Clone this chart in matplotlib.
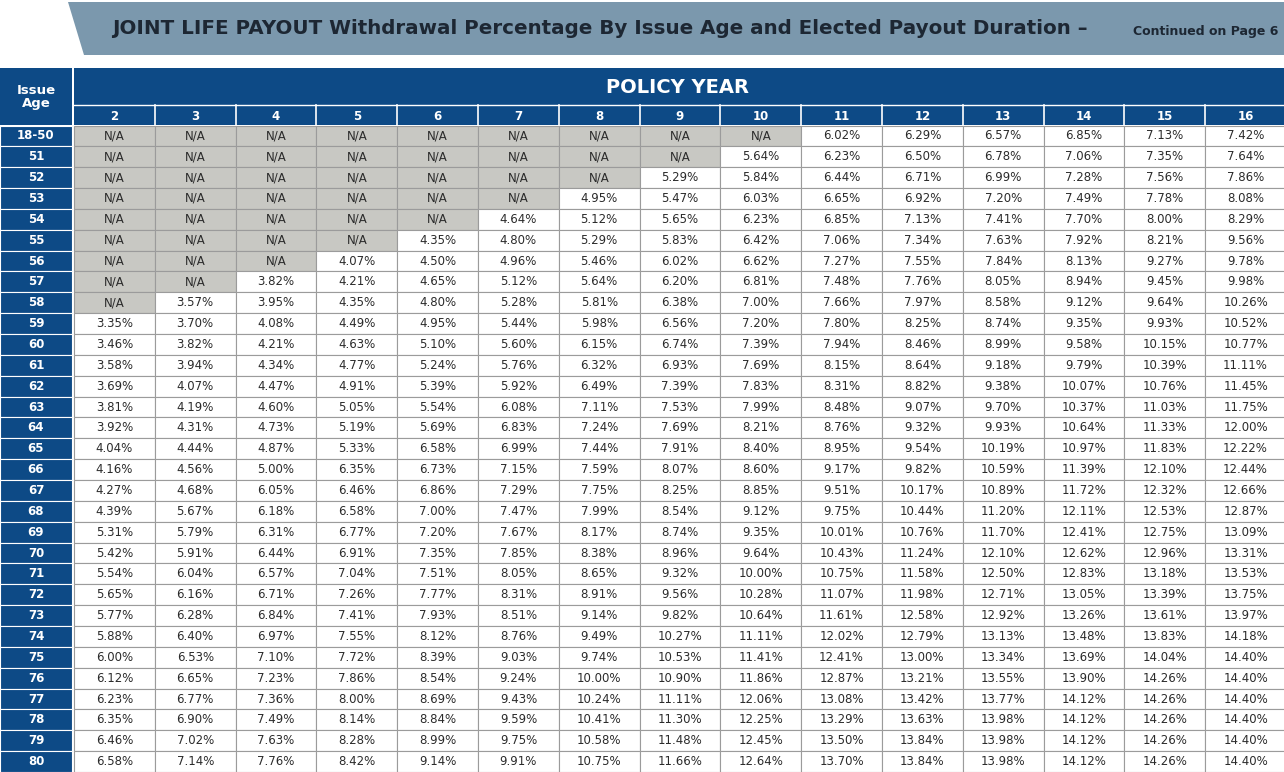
import matplotlib
matplotlib.use("Agg")
import matplotlib.pyplot as plt
from matplotlib.patches import Rectangle, Polygon

NA = None
ages = ["18-50"] + [str(a) for a in range(51, 81)]
years = list(range(2, 17))
rates = [
    [NA] * 9 + [6.02, 6.29, 6.57, 6.85, 7.13, 7.42],
    [NA] * 8 + [5.64, 6.23, 6.50, 6.78, 7.06, 7.35, 7.64],
    [NA] * 7 + [5.29, 5.84, 6.44, 6.71, 6.99, 7.28, 7.56, 7.86],
    [NA] * 6 + [4.95, 5.47, 6.03, 6.65, 6.92, 7.20, 7.49, 7.78, 8.08],
    [NA] * 5 + [4.64, 5.12, 5.65, 6.23, 6.85, 7.13, 7.41, 7.70, 8.00, 8.29],
    [NA] * 4 + [4.35, 4.80, 5.29, 5.83, 6.42, 7.06, 7.34, 7.63, 7.92, 8.21, 9.56],
    [NA] * 3 + [4.07, 4.50, 4.96, 5.46, 6.02, 6.62, 7.27, 7.55, 7.84, 8.13, 9.27, 9.78],
    [NA] * 2 + [3.82, 4.21, 4.65, 5.12, 5.64, 6.20, 6.81, 7.48, 7.76, 8.05, 8.94, 9.45, 9.98],
    [NA] + [3.57, 3.95, 4.35, 4.80, 5.28, 5.81, 6.38, 7.00, 7.66, 7.97, 8.58, 9.12, 9.64, 10.26],
    [3.35, 3.70, 4.08, 4.49, 4.95, 5.44, 5.98, 6.56, 7.20, 7.80, 8.25, 8.74, 9.35, 9.93, 10.52],
    [3.46, 3.82, 4.21, 4.63, 5.10, 5.60, 6.15, 6.74, 7.39, 7.94, 8.46, 8.99, 9.58, 10.15, 10.77],
    [3.58, 3.94, 4.34, 4.77, 5.24, 5.76, 6.32, 6.93, 7.69, 8.15, 8.64, 9.18, 9.79, 10.39, 11.11],
    [3.69, 4.07, 4.47, 4.91, 5.39, 5.92, 6.49, 7.39, 7.83, 8.31, 8.82, 9.38, 10.07, 10.76, 11.45],
    [3.81, 4.19, 4.60, 5.05, 5.54, 6.08, 7.11, 7.53, 7.99, 8.48, 9.07, 9.70, 10.37, 11.03, 11.75],
    [3.92, 4.31, 4.73, 5.19, 5.69, 6.83, 7.24, 7.69, 8.21, 8.76, 9.32, 9.93, 10.64, 11.33, 12.00],
    [4.04, 4.44, 4.87, 5.33, 6.58, 6.99, 7.44, 7.91, 8.40, 8.95, 9.54, 10.19, 10.97, 11.83, 12.22],
    [4.16, 4.56, 5.00, 6.35, 6.73, 7.15, 7.59, 8.07, 8.60, 9.17, 9.82, 10.59, 11.39, 12.10, 12.44],
    [4.27, 4.68, 6.05, 6.46, 6.86, 7.29, 7.75, 8.25, 8.85, 9.51, 10.17, 10.89, 11.72, 12.32, 12.66],
    [4.39, 5.67, 6.18, 6.58, 7.00, 7.47, 7.99, 8.54, 9.12, 9.75, 10.44, 11.20, 12.11, 12.53, 12.87],
    [5.31, 5.79, 6.31, 6.77, 7.20, 7.67, 8.17, 8.74, 9.35, 10.01, 10.76, 11.70, 12.41, 12.75, 13.09],
    [5.42, 5.91, 6.44, 6.91, 7.35, 7.85, 8.38, 8.96, 9.64, 10.43, 11.24, 12.10, 12.62, 12.96, 13.31],
    [5.54, 6.04, 6.57, 7.04, 7.51, 8.05, 8.65, 9.32, 10.00, 10.75, 11.58, 12.50, 12.83, 13.18, 13.53],
    [5.65, 6.16, 6.71, 7.26, 7.77, 8.31, 8.91, 9.56, 10.28, 11.07, 11.98, 12.71, 13.05, 13.39, 13.75],
    [5.77, 6.28, 6.84, 7.41, 7.93, 8.51, 9.14, 9.82, 10.64, 11.61, 12.58, 12.92, 13.26, 13.61, 13.97],
    [5.88, 6.40, 6.97, 7.55, 8.12, 8.76, 9.49, 10.27, 11.11, 12.02, 12.79, 13.13, 13.48, 13.83, 14.18],
    [6.00, 6.53, 7.10, 7.72, 8.39, 9.03, 9.74, 10.53, 11.41, 12.41, 13.00, 13.34, 13.69, 14.04, 14.40],
    [6.12, 6.65, 7.23, 7.86, 8.54, 9.24, 10.00, 10.90, 11.86, 12.87, 13.21, 13.55, 13.90, 14.26, 14.40],
    [6.23, 6.77, 7.36, 8.00, 8.69, 9.43, 10.24, 11.11, 12.06, 13.08, 13.42, 13.77, 14.12, 14.26, 14.40],
    [6.35, 6.90, 7.49, 8.14, 8.84, 9.59, 10.41, 11.30, 12.25, 13.29, 13.63, 13.98, 14.12, 14.26, 14.40],
    [6.46, 7.02, 7.63, 8.28, 8.99, 9.75, 10.58, 11.48, 12.45, 13.50, 13.84, 13.98, 14.12, 14.26, 14.40],
    [6.58, 7.14, 7.76, 8.42, 9.14, 9.91, 10.75, 11.66, 12.64, 13.70, 13.84, 13.98, 14.12, 14.26, 14.40],
]

NAVY = "#0d4a86"
BANNER = "#7b98ad"
GREY = "#c8c8c3"
GRID = "#9b9b9b"
TEXT = "#2b2b2b"

W, H = 1284, 772
fig = plt.figure(figsize=(W / 100, H / 100), dpi=100)
ax = fig.add_axes([0, 0, 1, 1])
ax.set_xlim(0, W)
ax.set_ylim(H, 0)
ax.axis("off")

# title banner
ax.add_patch(Polygon([(68, 2), (W, 2), (W, 55), (84, 55)], closed=True,
                     facecolor=BANNER, edgecolor="none"))
ax.text(112, 29, "JOINT LIFE PAYOUT Withdrawal Percentage By Issue Age and Elected Payout Duration \u2013",
        fontsize=14.3, fontweight="bold", color="#1d2733", va="center", ha="left")
ax.text(1278, 31, "Continued on Page 6", fontsize=9, fontweight="bold", color="#1d2733",
        va="center", ha="right")

age_w = 72
top = 68
head_h = 37
yr_h = 20
row_top = top + head_h + yr_h + 0.5
row_h = (H - row_top) / len(ages)
col_w = (W - age_w) / len(years)

# header blocks
ax.add_patch(Rectangle((0, top), age_w, head_h + yr_h, facecolor=NAVY, edgecolor="none"))
ax.add_patch(Rectangle((age_w + 2, top), W - age_w - 2, head_h + yr_h, facecolor=NAVY, edgecolor="none"))
ax.text(age_w / 2, top + (head_h + yr_h) / 2, "Issue\nAge", color="white", fontsize=9.5,
        fontweight="bold", ha="center", va="center", linespacing=1.0)
ax.text(age_w + (W - age_w) / 2, top + head_h / 2 + 1, "POLICY YEAR", color="white",
        fontsize=14, fontweight="bold", ha="center", va="center")
ax.plot([age_w + 2, W], [top + head_h, top + head_h], color="white", lw=1)
for j, yr in enumerate(years):
    x0 = age_w + 2 + j * col_w
    if j > 0:
        ax.plot([x0, x0], [top + head_h, top + head_h + yr_h], color="white", lw=1.2)
    ax.text(x0 + col_w / 2, top + head_h + yr_h / 2 + 1, str(yr), color="white",
            fontsize=8.5, fontweight="bold", ha="center", va="center")

# body
for i, age in enumerate(ages):
    y0 = row_top + i * row_h
    ax.add_patch(Rectangle((0, y0), age_w, row_h, facecolor=NAVY, edgecolor="white", lw=0.8))
    ax.text(age_w / 2, y0 + row_h / 2, age, color="white", fontsize=8.5,
            fontweight="bold", ha="center", va="center")
    for j, v in enumerate(rates[i]):
        x0 = age_w + 2 + j * col_w
        fc = GREY if v is None else "white"
        ax.add_patch(Rectangle((x0, y0), col_w, row_h, facecolor=fc, edgecolor=GRID, lw=0.8))
        label = "N/A" if v is None else f"{v:.2f}%"
        ax.text(x0 + col_w / 2, y0 + row_h / 2, label, color=TEXT, fontsize=8.5,
                ha="center", va="center")

fig.savefig("out.png", dpi=100)
